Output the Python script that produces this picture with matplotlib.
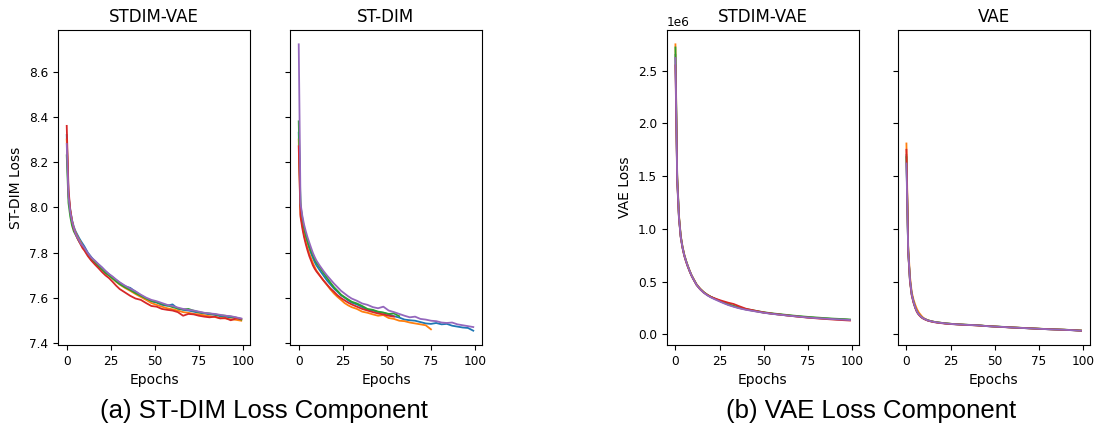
import matplotlib.pyplot as plt
import numpy as np

COLORS = ["C0", "C1", "C2", "C3", "C4"]

EPOCHS_STDIM = [0, 1, 2, 3, 4, 5, 6, 7, 8, 9, 10, 12, 14, 16, 18, 20, 22, 24, 26, 28, 30,
                33, 36, 39, 42, 45, 48, 51, 54, 57, 60, 63, 66, 69, 72, 75, 78, 81, 84, 87,
                90, 93, 96, 99]

# ST-DIM loss, STDIM-VAE model (5 runs)
stdimvae_stdim_loss = [
    [8.32, 8.06, 7.99, 7.945, 7.915, 7.895, 7.88, 7.865, 7.852, 7.84, 7.828, 7.80, 7.78, 7.762,
     7.748, 7.735, 7.718, 7.705, 7.692, 7.68, 7.668, 7.652, 7.645, 7.628, 7.612, 7.598, 7.585,
     7.58, 7.57, 7.566, 7.572, 7.553, 7.548, 7.545, 7.54, 7.535, 7.532, 7.528, 7.526, 7.52,
     7.518, 7.514, 7.512, 7.508],
    [8.30, 8.05, 7.985, 7.94, 7.91, 7.89, 7.872, 7.858, 7.845, 7.83, 7.818, 7.792, 7.772, 7.758,
     7.742, 7.728, 7.712, 7.698, 7.688, 7.672, 7.66, 7.645, 7.632, 7.618, 7.605, 7.592, 7.578,
     7.57, 7.562, 7.555, 7.55, 7.545, 7.538, 7.535, 7.53, 7.528, 7.524, 7.52, 7.516, 7.512,
     7.51, 7.506, 7.504, 7.50],
    [8.23, 8.02, 7.96, 7.92, 7.895, 7.88, 7.865, 7.85, 7.838, 7.826, 7.815, 7.79, 7.768, 7.755,
     7.74, 7.725, 7.71, 7.70, 7.686, 7.674, 7.662, 7.648, 7.636, 7.622, 7.61, 7.598, 7.588,
     7.582, 7.574, 7.568, 7.56, 7.554, 7.55, 7.552, 7.544, 7.538, 7.534, 7.532, 7.528, 7.524,
     7.522, 7.518, 7.514, 7.505],
    [8.36, 8.08, 7.99, 7.94, 7.905, 7.885, 7.865, 7.85, 7.835, 7.82, 7.81, 7.785, 7.765, 7.748,
     7.732, 7.715, 7.70, 7.688, 7.672, 7.655, 7.64, 7.625, 7.61, 7.598, 7.592, 7.578, 7.565,
     7.562, 7.552, 7.548, 7.545, 7.538, 7.522, 7.53, 7.528, 7.522, 7.518, 7.515, 7.518, 7.51,
     7.512, 7.502, 7.51, 7.508],
    [8.28, 8.05, 7.98, 7.94, 7.91, 7.885, 7.868, 7.855, 7.84, 7.832, 7.822, 7.798, 7.778, 7.765,
     7.75, 7.735, 7.72, 7.706, 7.695, 7.682, 7.67, 7.655, 7.642, 7.63, 7.615, 7.602, 7.592,
     7.586, 7.578, 7.57, 7.565, 7.558, 7.552, 7.548, 7.545, 7.54, 7.535, 7.532, 7.53, 7.526,
     7.522, 7.52, 7.515, 7.51],
]

# ST-DIM loss, ST-DIM model (5 runs, some stopped early)
stdim_stdim_loss = [
    [8.33, 8.00, 7.945, 7.90, 7.868, 7.842, 7.818, 7.797, 7.778, 7.76, 7.745, 7.722, 7.70, 7.678,
     7.66, 7.642, 7.628, 7.612, 7.602, 7.59, 7.58, 7.572, 7.56, 7.548, 7.545, 7.538, 7.535,
     7.528, 7.52, 7.514, 7.505, 7.502, 7.50, 7.494, 7.488, 7.486, 7.49, 7.484, 7.486, 7.478,
     7.474, 7.47, 7.468, 7.456],
    [8.30, 7.97, 7.925, 7.88, 7.848, 7.82, 7.795, 7.775, 7.755, 7.738, 7.722, 7.70, 7.678, 7.658,
     7.638, 7.62, 7.605, 7.592, 7.578, 7.568, 7.56, 7.552, 7.54, 7.535, 7.528, 7.522, 7.525,
     7.512, 7.508, 7.50, 7.498, 7.492, 7.488, 7.484, 7.48, 7.462],
    [8.38, 8.01, 7.955, 7.91, 7.878, 7.852, 7.828, 7.808, 7.79, 7.772, 7.757, 7.735, 7.712, 7.69,
     7.668, 7.648, 7.632, 7.615, 7.604, 7.594, 7.584, 7.576, 7.565, 7.552, 7.548, 7.54, 7.536,
     7.53, 7.532, 7.52],
    [8.27, 7.96, 7.91, 7.87, 7.838, 7.81, 7.785, 7.765, 7.745, 7.73, 7.718, 7.698, 7.678, 7.66,
     7.642, 7.628, 7.612, 7.60, 7.59, 7.58, 7.572, 7.562, 7.552, 7.545, 7.538, 7.532, 7.528,
     7.522, 7.518],
    [8.72, 8.02, 7.965, 7.925, 7.895, 7.868, 7.845, 7.822, 7.80, 7.782, 7.766, 7.742, 7.72, 7.70,
     7.682, 7.664, 7.648, 7.632, 7.62, 7.608, 7.598, 7.588, 7.576, 7.57, 7.56, 7.555, 7.562,
     7.545, 7.538, 7.53, 7.522, 7.515, 7.518, 7.508, 7.505, 7.50, 7.498, 7.492, 7.49, 7.492,
     7.484, 7.48, 7.476, 7.472],
]

EPOCHS_VAE = [0, 1, 2, 3, 4, 5, 6, 7, 8, 9, 10, 12, 14, 16, 18, 20, 22, 24, 26, 28, 30, 33, 36,
              40, 45, 50, 55, 60, 65, 70, 75, 80, 85, 90, 95, 99]

# VAE loss in millions, STDIM-VAE model
stdimvae_vae_loss = [
    [2.65, 1.50, 1.12, 0.93, 0.83, 0.755, 0.70, 0.65, 0.605, 0.565, 0.532, 0.472, 0.432, 0.40,
     0.376, 0.356, 0.34, 0.325, 0.31, 0.296, 0.282, 0.266, 0.251, 0.236, 0.221, 0.206, 0.195,
     0.186, 0.177, 0.169, 0.161, 0.155, 0.150, 0.145, 0.141, 0.137],
    [2.75, 1.52, 1.13, 0.94, 0.835, 0.76, 0.70, 0.652, 0.607, 0.567, 0.535, 0.475, 0.434, 0.402,
     0.377, 0.357, 0.341, 0.326, 0.311, 0.297, 0.283, 0.267, 0.252, 0.237, 0.222, 0.207, 0.196,
     0.187, 0.178, 0.170, 0.162, 0.156, 0.150, 0.145, 0.141, 0.137],
    [2.72, 1.48, 1.11, 0.93, 0.825, 0.75, 0.695, 0.645, 0.602, 0.563, 0.53, 0.47, 0.43, 0.40,
     0.375, 0.356, 0.341, 0.326, 0.312, 0.298, 0.285, 0.27, 0.255, 0.24, 0.225, 0.21, 0.199,
     0.19, 0.181, 0.173, 0.166, 0.16, 0.154, 0.149, 0.145, 0.141],
    [2.55, 1.45, 1.10, 0.92, 0.82, 0.745, 0.69, 0.642, 0.60, 0.56, 0.528, 0.468, 0.428, 0.397,
     0.374, 0.356, 0.343, 0.331, 0.32, 0.31, 0.30, 0.288, 0.268, 0.243, 0.225, 0.208, 0.196,
     0.186, 0.176, 0.167, 0.159, 0.152, 0.146, 0.14, 0.135, 0.131],
    [2.62, 1.47, 1.11, 0.925, 0.825, 0.75, 0.695, 0.647, 0.603, 0.563, 0.53, 0.47, 0.428, 0.396,
     0.371, 0.351, 0.335, 0.32, 0.305, 0.291, 0.278, 0.262, 0.248, 0.233, 0.219, 0.205, 0.194,
     0.185, 0.176, 0.168, 0.16, 0.154, 0.149, 0.144, 0.14, 0.136],
]

# VAE loss in millions, VAE model
vae_vae_loss = [
    [1.70, 0.80, 0.52, 0.38, 0.31, 0.255, 0.215, 0.19, 0.172, 0.158, 0.148, 0.133, 0.124, 0.117,
     0.112, 0.108, 0.104, 0.101, 0.098, 0.096, 0.094, 0.091, 0.089, 0.086, 0.079, 0.074, 0.070,
     0.065, 0.061, 0.057, 0.053, 0.049, 0.046, 0.043, 0.039, 0.035],
    [1.81, 0.84, 0.55, 0.40, 0.33, 0.28, 0.238, 0.208, 0.186, 0.166, 0.152, 0.135, 0.125, 0.118,
     0.113, 0.109, 0.105, 0.102, 0.099, 0.097, 0.095, 0.092, 0.089, 0.086, 0.08, 0.075, 0.070,
     0.066, 0.062, 0.058, 0.054, 0.050, 0.047, 0.044, 0.040, 0.036],
    [1.68, 0.79, 0.51, 0.38, 0.31, 0.255, 0.216, 0.19, 0.172, 0.158, 0.148, 0.134, 0.125, 0.118,
     0.113, 0.109, 0.105, 0.102, 0.099, 0.097, 0.095, 0.092, 0.09, 0.087, 0.08, 0.075, 0.071,
     0.066, 0.062, 0.058, 0.054, 0.05, 0.047, 0.044, 0.04, 0.036],
    [1.75, 0.78, 0.50, 0.37, 0.30, 0.25, 0.21, 0.186, 0.168, 0.155, 0.145, 0.131, 0.122, 0.115,
     0.11, 0.106, 0.102, 0.099, 0.097, 0.095, 0.093, 0.09, 0.088, 0.085, 0.079, 0.074, 0.069,
     0.065, 0.061, 0.057, 0.053, 0.049, 0.046, 0.043, 0.039, 0.035],
    [1.62, 0.79, 0.52, 0.38, 0.31, 0.256, 0.216, 0.19, 0.172, 0.158, 0.148, 0.133, 0.124, 0.117,
     0.112, 0.108, 0.104, 0.101, 0.098, 0.096, 0.094, 0.091, 0.089, 0.086, 0.079, 0.074, 0.070,
     0.065, 0.061, 0.057, 0.053, 0.049, 0.046, 0.043, 0.039, 0.035],
]

fig = plt.figure(figsize=(10.96, 4.32), dpi=100)

W, H = 1096, 432
def pix_axes(left, sharey=None):
    return fig.add_axes([left / W, 87 / H, 192 / W, 315 / H], sharey=sharey)

ax1 = pix_axes(58)
ax2 = pix_axes(290, sharey=ax1)
ax3 = pix_axes(666.7)
ax4 = pix_axes(897.7, sharey=ax3)

def draw(ax, epochs, runs, title, scale=1.0):
    for run, color in zip(runs, COLORS):
        vals = np.array(run) * scale
        ax.plot(epochs[:len(vals)], vals, color=color, lw=1.3)
    ax.set_title(title, fontsize=12)
    ax.set_xlabel("Epochs", fontsize=10)
    ax.set_xticks([0, 25, 50, 75, 100])
    ax.tick_params(labelsize=8.7)

draw(ax1, EPOCHS_STDIM, stdimvae_stdim_loss, "STDIM-VAE")
draw(ax2, EPOCHS_STDIM, stdim_stdim_loss, "ST-DIM")
draw(ax3, EPOCHS_VAE, stdimvae_vae_loss, "STDIM-VAE", scale=1e6)
draw(ax4, EPOCHS_VAE, vae_vae_loss, "VAE", scale=1e6)

for ax in (ax1, ax2, ax3, ax4):
    ax.set_xlim(-4.95, 103.95)

ax1.set_ylabel("ST-DIM Loss", fontsize=10)
ax3.set_ylabel("VAE Loss", fontsize=10)
ax2.tick_params(labelleft=False)
ax4.tick_params(labelleft=False)
ax3.yaxis.get_offset_text().set_fontsize(8.7)

fig.text(264 / W, (432 - 411) / H, "(a) ST-DIM Loss Component", ha="center", va="center",
         fontsize=18.5, family="Liberation Sans")
fig.text(871 / W, (432 - 411) / H, "(b) VAE Loss Component", ha="center", va="center",
         fontsize=18.5, family="Liberation Sans")

fig.savefig("out.png", dpi=100)
